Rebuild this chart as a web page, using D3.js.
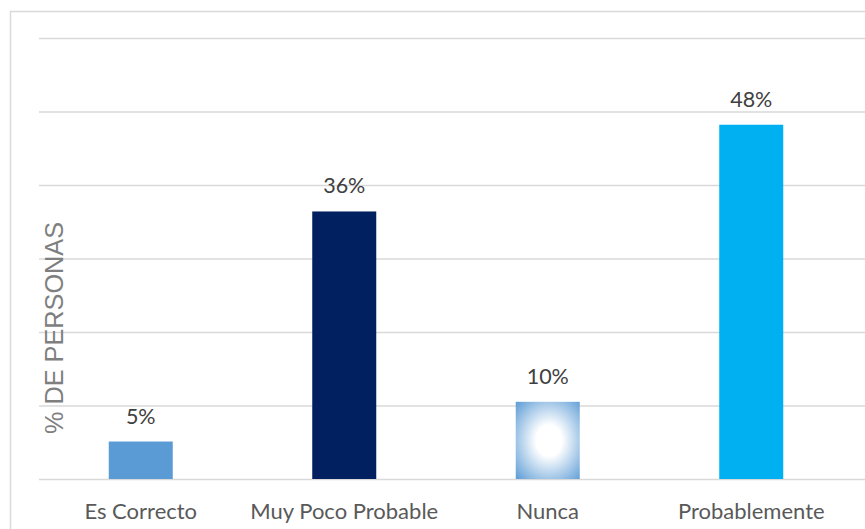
<!DOCTYPE html>
<html>
<head>
<meta charset="utf-8">
<script src="https://cdn.jsdelivr.net/npm/d3@7"></script>
<style>
  body { margin: 0; background: #fff; }
  svg { display: block; }
</style>
</head>
<body>
<svg id="chart"></svg>
<script>
// chart data
const categories = ['Es Correcto', 'Muy Poco Probable', 'Nunca', 'Probablemente'];
const values = [5.1, 36.4, 10.5, 48.2];
const valueLabels = ['5%', '36%', '10%', '48%'];
const yTicks = [0, 10, 20, 30, 40, 50, 60];
const yTitle = '% DE PERSONAS';

const width = 865;
const height = 529;
const margin = { top: 38, right: 12, bottom: 50, left: 39 };

const svg = d3.select('#chart')
	.attr('width', width)
	.attr('height', height);

const defs = svg.append('defs');
const grad = defs.append('radialGradient')
	.attr('id', 'nuncaFill')
	.attr('cx', '52%')
	.attr('cy', '50%')
	.attr('r', '72%');
grad.append('stop').attr('offset', '0%').attr('stop-color', '#ffffff');
grad.append('stop').attr('offset', '28%').attr('stop-color', '#ffffff');
grad.append('stop').attr('offset', '100%').attr('stop-color', '#5B9BD5');

const fills = ['#5B9BD5', '#002060', 'url(#nuncaFill)', '#00B0F0'];

// chart frame
svg.append('rect')
	.attr('x', 10.5)
	.attr('y', 11.5)
	.attr('width', 900)
	.attr('height', 600)
	.attr('fill', 'none')
	.attr('stroke', '#d9d9d9')
	.attr('stroke-width', 1.5);

const x = d3.scaleBand()
	.domain(categories)
	.range([margin.left, width - margin.right])
	.paddingInner(0.6855)
	.paddingOuter(0.6855 / 2);

const y = d3.scaleLinear()
	.domain([0, 60])
	.range([height - margin.bottom, margin.top]);

// gridlines
const grid = svg.append('g')
	.attr('transform', `translate(${margin.left},0)`)
	.call(d3.axisLeft(y).tickValues(yTicks).tickSize(-(width - margin.left)).tickFormat(''));
grid.select('.domain').remove();
grid.selectAll('line')
	.attr('stroke', '#d9d9d9')
	.attr('stroke-width', 1.5);

// bars
svg.append('g')
	.selectAll('rect')
	.data(categories)
	.join('rect')
	.attr('x', (d) => x(d))
	.attr('width', x.bandwidth())
	.attr('y', (d, i) => y(values[i]))
	.attr('height', (d, i) => y(0) - y(values[i]))
	.attr('fill', (d, i) => fills[i]);

// value labels
svg.append('g')
	.selectAll('text')
	.data(categories)
	.join('text')
	.attr('x', (d) => x(d) + x.bandwidth() / 2)
	.attr('y', (d, i) => y(values[i]) - 18)
	.attr('text-anchor', 'middle')
	.attr('font-family', 'Lato, "Open Sans", sans-serif')
	.attr('font-size', 21.5)
	.attr('fill', '#404040')
	.text((d, i) => valueLabels[i]);

// category labels
const xAxis = svg.append('g')
	.attr('transform', `translate(0,${y(0)})`)
	.call(d3.axisBottom(x).tickSize(0).tickPadding(0));
xAxis.select('.domain').remove();
xAxis.selectAll('text')
	.attr('dy', 0)
	.attr('y', 40)
	.attr('font-family', 'Lato, "Open Sans", sans-serif')
	.attr('font-size', 22)
	.attr('fill', '#595959');

// y axis title
svg.append('text')
	.attr('transform', `translate(63,328) rotate(-90)`)
	.attr('text-anchor', 'middle')
	.attr('font-family', '"Liberation Sans", Arial, sans-serif')
	.attr('font-size', 26)
	.attr('textLength', 212)
	.attr('lengthAdjust', 'spacingAndGlyphs')
	.attr('fill', '#7f7f7f')
	.text(yTitle);
</script>
</body>
</html>
